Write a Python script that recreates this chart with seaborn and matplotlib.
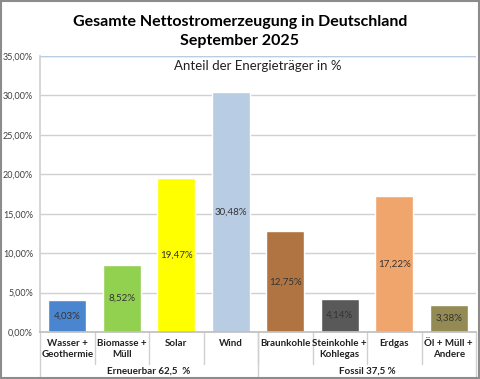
import numpy as np
import pandas as pd
import matplotlib
matplotlib.use("Agg")
from matplotlib import pyplot as plt
import seaborn as sns


# Data
categories = ["Wasser +\nGeothermie", "Biomasse +\nMüll", "Solar", "Wind",
              "Braunkohle", "Steinkohle +\nKohlegas", "Erdgas", "Öl + Müll +\nAndere"]
shares = [4.03, 8.52, 19.47, 30.48, 12.75, 4.14, 17.22, 3.38]
colors = ["#4a86d0", "#92d050", "#ffff00", "#b8cce4",
          "#b07443", "#595959", "#f0a56c", "#948a54"]
groups = ["Erneuerbar 62,5  %", "Fossil 37,5 %"]
group_sizes = [4, 4]
y_ticks = [0, 5, 10, 15, 20, 25, 30, 35]


def de_pct(v):
    return ("%.2f%%" % v).replace(".", ",")


def main():
    sns.set_theme(style="white")
    plt.rcParams["font.family"] = ["Lato", "DejaVu Sans"]

    df = pd.DataFrame({"cat": categories, "share": shares})

    fig = plt.figure(figsize=(4.8, 3.79), dpi=100)
    ax = fig.add_axes([40 / 480, 47 / 379, 436 / 480, 276 / 379])

    sns.barplot(data=df, x="cat", y="share", hue="cat", palette=colors,
                width=0.7, legend=False, ax=ax, saturation=1)

    for cont in ax.containers:
        ax.bar_label(cont, labels=[de_pct(v) for v in cont.datavalues],
                     label_type="center", fontsize=7, color="#333333")

    ax.set_ylim(0, 35)
    ax.set_xlim(-0.5, len(categories) - 0.5)
    ax.set_yticks(y_ticks)
    ax.set_yticklabels([de_pct(v) for v in y_ticks], fontsize=6.5, color="#404040")
    ax.yaxis.grid(True, color="#d0d0d0", linewidth=1)
    ax.set_axisbelow(True)
    ax.tick_params(axis="y", length=0, pad=5)
    ax.set_xticks([])
    ax.set_xlabel("")
    ax.set_ylabel("")
    for s in ["top", "right"]:
        ax.spines[s].set_visible(False)
    ax.spines["left"].set_color("#d0d0d0")
    ax.spines["bottom"].set_color("#c0c0c0")
    ax.axhline(35, color="#b8cce4", linewidth=1)

    # multi-level category axis
    trans = ax.get_xaxis_transform()
    n = len(categories)
    for i, c in enumerate(categories):
        ax.text(i, -0.025, c, transform=trans, ha="center", va="top",
                fontsize=7, fontweight="bold", color="#202020",
                linespacing=1.25, clip_on=False)
    for b in range(1, n):
        ax.plot([b - 0.5, b - 0.5], [0, -0.115], transform=trans,
                color="#d0d0d0", linewidth=1, clip_on=False)
    start = 0
    edges = [-0.5]
    for g, size in zip(groups, group_sizes):
        mid = start + (size - 1) / 2
        ax.text(mid, -0.125, g, transform=trans, ha="center", va="top",
                fontsize=7, fontweight="bold", color="#202020", clip_on=False)
        start += size
        edges.append(start - 0.5)
    for e in edges:
        ax.plot([e, e], [0, -0.175], transform=trans,
                color="#d0d0d0", linewidth=1, clip_on=False)

    fig.text(0.5, 0.96, "Gesamte Nettostromerzeugung in Deutschland\nSeptember 2025",
             ha="center", va="top", fontsize=11.5, fontweight="bold",
             color="#000000", linespacing=1.45)
    ax.text(0.5, 0.985, "Anteil der Energieträger in %", transform=ax.transAxes,
            ha="center", va="top", fontsize=9.5, color="#202020")

    # outer frame
    fig.patches.append(plt.Rectangle((0.002, 0.002), 0.996, 0.996,
                                     transform=fig.transFigure, fill=False,
                                     edgecolor="#8c8c8c", linewidth=1.5))

    fig.savefig("out.png", dpi=100)


if __name__ == "__main__":
    main()
